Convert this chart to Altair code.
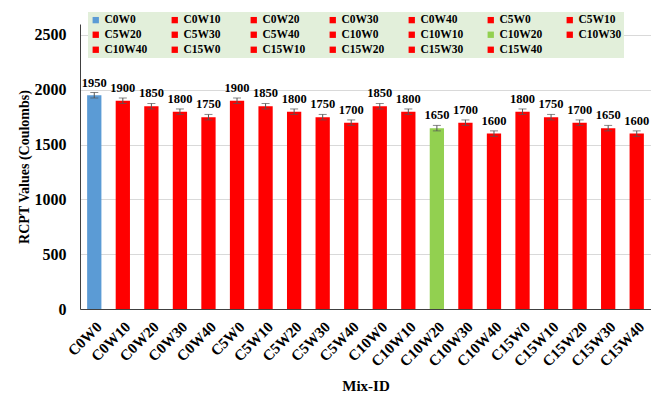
import altair as alt
import pandas as pd

mixes = ["C0W0", "C0W10", "C0W20", "C0W30", "C0W40",
         "C5W0", "C5W10", "C5W20", "C5W30", "C5W40",
         "C10W0", "C10W10", "C10W20", "C10W30", "C10W40",
         "C15W0", "C15W10", "C15W20", "C15W30", "C15W40"]
values = [1950, 1900, 1850, 1800, 1750,
          1900, 1850, 1800, 1750, 1700,
          1850, 1800, 1650, 1700, 1600,
          1800, 1750, 1700, 1650, 1600]
errors = [25, 25, 25, 25, 25,
          25, 25, 25, 25, 25,
          25, 25, 25, 25, 25,
          25, 25, 25, 25, 25]
colors = ["#5b9bd5", "#ff0000", "#ff0000", "#ff0000", "#ff0000",
          "#ff0000", "#ff0000", "#ff0000", "#ff0000", "#ff0000",
          "#ff0000", "#ff0000", "#92d050", "#ff0000", "#ff0000",
          "#ff0000", "#ff0000", "#ff0000", "#ff0000", "#ff0000"]

df = pd.DataFrame({"mix": mixes, "value": values, "err": errors})
df["lo"] = df["value"] - df["err"]
df["hi"] = df["value"] + df["err"]

FONT = "Liberation Serif"
YTITLE = "RCPT Values (Coulombs)"

x = alt.X("mix:N", sort=mixes, title="Mix-ID",
          scale=alt.Scale(paddingInner=0.5, paddingOuter=0.25),
          axis=alt.Axis(labelAngle=-45, labelFont=FONT, labelFontWeight="bold",
                        labelFontSize=15, labelColor="black", ticks=False,
                        domainColor="#404040", titleFont=FONT, titleFontWeight="bold",
                        titleFontSize=15, titleColor="black", titlePadding=9,
                        labelPadding=10))

yaxis = alt.Axis(values=[0, 500, 1000, 1500, 2000, 2500], ticks=False, format="d",
                 labelFont=FONT, labelFontWeight="bold", labelFontSize=16,
                 labelColor="black", labelPadding=14, gridColor="#d9d9d9",
                 domainColor="#404040", titleFont=FONT, titleFontWeight="bold",
                 titleFontSize=14, titleColor="black", titlePadding=3)

bars = alt.Chart(df).mark_bar().encode(
    x=x,
    y=alt.Y("value:Q", title=YTITLE, scale=alt.Scale(domain=[0, 2500]), axis=yaxis),
    color=alt.Color("mix:N", sort=mixes,
                    scale=alt.Scale(domain=mixes, range=colors),
                    legend=alt.Legend(title=None, orient="none", legendX=8, legendY=-12,
                                      direction="horizontal",
                                      columns=7, symbolType="square", symbolSize=40,
                                      labelFont=FONT, labelFontWeight="bold",
                                      labelFontSize=11.5, labelColor="black",
                                      fillColor="#e2efda", padding=2,
                                      columnPadding=21, rowPadding=2,
                                      gridAlign="all", symbolStrokeWidth=0,
                                      labelOffset=3))
)

errs = alt.Chart(df).mark_errorbar(ticks=alt.MarkConfig(size=8, color="#555555"),
                                   color="#555555", thickness=1).encode(
    x=alt.X("mix:N", sort=mixes),
    y=alt.Y("lo:Q", title=YTITLE),
    y2="hi:Q"
)

labels = alt.Chart(df).mark_text(font=FONT, fontWeight="bold", fontSize=12.5,
                                 baseline="alphabetic", dy=-6, color="black").encode(
    x=alt.X("mix:N", sort=mixes),
    y=alt.Y("hi:Q", title=YTITLE),
    text="value:Q"
)

chart = alt.layer(bars, errs, labels).properties(
    width=643, height=386,
    autosize=alt.AutoSizeParams(type="fit", contains="padding"),
    padding={"left": 9, "top": 16, "right": 0, "bottom": 0}
).configure_view(stroke=None)

chart.save("out.html", embed_options={"renderer": "svg", "actions": False})
